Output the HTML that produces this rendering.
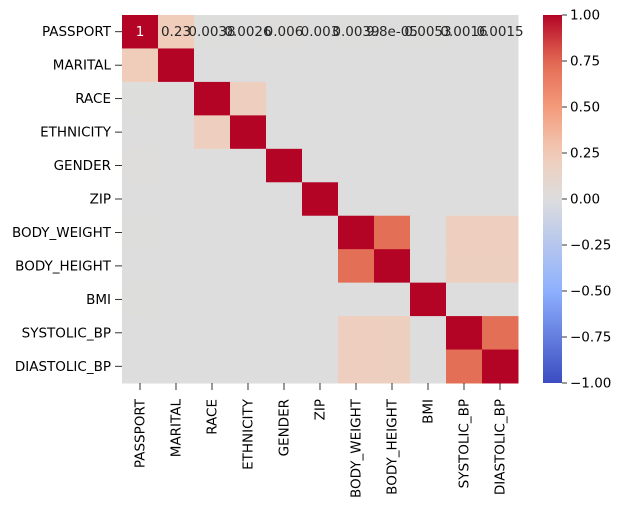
<!DOCTYPE html>
<html><head><meta charset="utf-8"><style>
body{margin:0;background:#fff;}
svg{display:block;font-family:"DejaVu Sans","Liberation Sans",sans-serif;}
</style></head><body>
<svg id="chart" width="624" height="506"></svg>
<script>
const labels=["PASSPORT","MARITAL","RACE","ETHNICITY","GENDER","ZIP","BODY_WEIGHT","BODY_HEIGHT","BMI","SYSTOLIC_BP","DIASTOLIC_BP"];
const row0=[1,0.23,0.0038,0.0026,0.006,0.003,0.0039,0.000098,0.0053,0.0016,0.0015];
const row0Text=["1","0.23","0.0038","0.0026","0.006","0.003","0.0039","9.8e-05","0.0053","0.0016","0.0015"];
const pairs=[[0,1,0.23],[2,3,0.2],[6,7,0.72],[6,9,0.2],[6,10,0.2],[7,9,0.19],[7,10,0.19],[9,10,0.72]];
const cbTicks=[1,0.75,0.5,0.25,0,-0.25,-0.5,-0.75,-1];
const cbLabels=["1.00","0.75","0.50","0.25","0.00","\u22120.25","\u22120.50","\u22120.75","\u22121.00"];

const NS="http://www.w3.org/2000/svg";
const svg=document.getElementById("chart");
const X0=122,Y0=15,W=396,H=368,n=labels.length,cw=W/n,ch=H/n;
const CBX=543,CBW=19;
function xs(i){return X0+i*cw;}
function ys(i){return Y0+i*ch;}
function cby(v){return Y0+(1-v)/2*H;}
const stops=[[-1,[59,76,192]],[-0.5,[141,176,254]],[0,[221,221,221]],[0.25,[242,203,183]],[0.5,[244,154,123]],[0.75,[226,105,82]],[1,[180,4,38]]];
function color(v){
  v=Math.max(-1,Math.min(1,v));
  for(let k=0;k<stops.length-1;k++){
    const [a,ca]=stops[k],[b,cb]=stops[k+1];
    if(v<=b){const t=(v-a)/(b-a);return "rgb("+ca.map((c,j)=>Math.round(c+(cb[j]-c)*t)).join(",")+")";}
  }
  return "rgb(180,4,38)";
}
function mk(tag,attrs,txt){const e=document.createElementNS(NS,tag);for(const k in attrs)e.setAttribute(k,attrs[k]);if(txt!==undefined)e.textContent=txt;svg.appendChild(e);return e;}

const M=[];
for(let i=0;i<n;i++){M.push([]);for(let j=0;j<n;j++)M[i].push(i===j?1:0.003);}
for(let j=0;j<n;j++){M[0][j]=row0[j];M[j][0]=row0[j];}
pairs.forEach(([a,b,v])=>{M[a][b]=v;M[b][a]=v;});

for(let i=0;i<n;i++)for(let j=0;j<n;j++){
  const r=mk("rect",{x:xs(j),y:ys(i),width:cw+0.5,height:ch+0.5,fill:color(M[i][j])});
  
  
}
for(let j=0;j<n;j++){
  const t=mk("text",{x:xs(j)+cw/2,y:ys(0)+ch/2+4.5,"text-anchor":"middle","font-size":"13.5",fill:j===0?"#fff":"#262626"},row0Text[j]);
  
  
}
for(let i=0;i<n;i++){
  const yl=ys(i)+ch/2;
  mk("line",{x1:X0-7,x2:X0,y1:yl,y2:yl,stroke:"#000","stroke-width":0.8});
  const t=mk("text",{x:X0-11,y:yl+4.5,"text-anchor":"end","font-size":"13.5",fill:"#000"},labels[i]);
  
  
  const xl=xs(i)+cw/2;
  mk("line",{x1:xl,x2:xl,y1:Y0+H,y2:Y0+H+7,stroke:"#000","stroke-width":0.8});
  const t2=mk("text",{x:0,y:0,"text-anchor":"end","font-size":"13.5",fill:"#000",transform:"translate("+(xl+4.5)+","+(Y0+H+16)+") rotate(-90)"},labels[i]);
  
  
}
const defs=mk("defs",{});
const g=document.createElementNS(NS,"linearGradient");g.setAttribute("id","cg");g.setAttribute("x1","0");g.setAttribute("x2","0");g.setAttribute("y1","0");g.setAttribute("y2","1");
for(let k=0;k<=20;k++){const v=1-k/10;const s=document.createElementNS(NS,"stop");s.setAttribute("offset",(k*5)+"%");s.setAttribute("stop-color",color(v));g.appendChild(s);}
defs.appendChild(g);
const cb=mk("rect",{x:CBX,y:Y0,width:CBW,height:H,fill:"url(#cg)"});


cbTicks.forEach((v,k)=>{
  const y=cby(v);
  mk("line",{x1:CBX+CBW,x2:CBX+CBW+5,y1:y,y2:y,stroke:"#000","stroke-width":0.8});
  const t=mk("text",{x:CBX+CBW+8,y:y+4.5,"font-size":"13.5",fill:"#000"},cbLabels[k]);
  
  
});
</script>
</body></html>
